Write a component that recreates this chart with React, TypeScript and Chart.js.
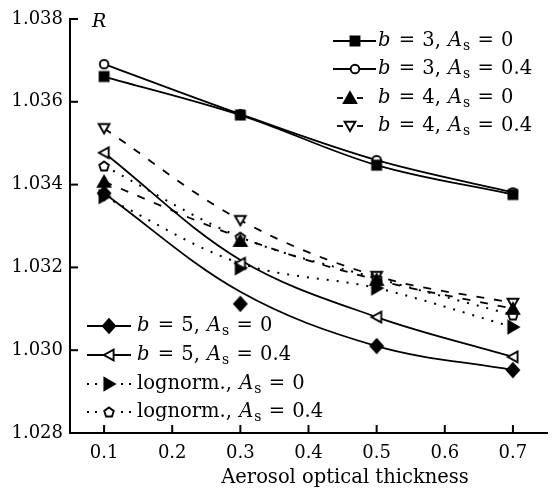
import React, { useEffect, useRef } from 'react';
import { Chart, registerables } from 'chart.js';

Chart.register(...registerables);

// ---- data ----
const xValues = [0.1, 0.3, 0.5, 0.7];
const xTicks = [0.1, 0.2, 0.3, 0.4, 0.5, 0.6, 0.7];
const yTicks = [1.028, 1.03, 1.032, 1.034, 1.036, 1.038];

// measured points (markers)
const b3As0 = [1.03661, 1.03568, 1.03447, 1.03376];
const b3As04 = [1.03691, 1.0357, 1.03459, 1.03381];
const b4As0 = [1.03407, 1.03264, 1.0317, 1.031];
const b4As04 = [1.03536, 1.03314, 1.03179, 1.03114];
const b5As0 = [1.03379, 1.03112, 1.0301, 1.02952];
const b5As04 = [1.03477, 1.0321, 1.0308, 1.02984];
const lnAs0 = [1.03371, 1.03199, 1.0315, 1.03056];
const lnAs04 = [1.03445, 1.03273, 1.03174, 1.03085];

// fitted curves (lines)
const b3As0Fit = [1.03661, 1.03568, 1.03447, 1.03376];
const b3As04Fit = [1.03691, 1.0357, 1.03459, 1.03381];
const b4As0Fit = [1.03407, 1.03272, 1.0317, 1.031];
const b4As04Fit = [1.03536, 1.03314, 1.03179, 1.03114];
const b5As0Fit = [1.03379, 1.03141, 1.0301, 1.02952];
const b5As04Fit = [1.03477, 1.03218, 1.0308, 1.02984];
const lnAs0Fit = [1.03371, 1.0321, 1.0315, 1.03056];
const lnAs04Fit = [1.03445, 1.03273, 1.03174, 1.03085];

type Part = { t: string; italic?: boolean; sub?: boolean };
const lbl = (pre: Part[], val: string): Part[] => [
  ...pre,
  { t: 'A', italic: true },
  { t: 's', sub: true },
  { t: ' = ' + val },
];

const labelB3As0 = lbl([{ t: 'b', italic: true }, { t: ' = 3, ' }], '0');
const labelB3As04 = lbl([{ t: 'b', italic: true }, { t: ' = 3, ' }], '0.4');
const labelB4As0 = lbl([{ t: 'b', italic: true }, { t: ' = 4, ' }], '0');
const labelB4As04 = lbl([{ t: 'b', italic: true }, { t: ' = 4, ' }], '0.4');
const labelB5As0 = lbl([{ t: 'b', italic: true }, { t: ' = 5, ' }], '0');
const labelB5As04 = lbl([{ t: 'b', italic: true }, { t: ' = 5, ' }], '0.4');
const labelLnAs0 = lbl([{ t: 'lognorm., ' }], '0');
const labelLnAs04 = lbl([{ t: 'lognorm., ' }], '0.4');

const FONT = 'DejaVu Serif';

type Series = {
  values: number[];
  fit: number[];
  marker: string;
  style: 'solid' | 'dashed' | 'dotted';
  label: Part[];
  group: 'top' | 'bottom';
};

const series: Series[] = [
  { values: b3As0, fit: b3As0Fit, marker: 'square', style: 'solid', label: labelB3As0, group: 'top' },
  { values: b3As04, fit: b3As04Fit, marker: 'circle', style: 'solid', label: labelB3As04, group: 'top' },
  { values: b4As0, fit: b4As0Fit, marker: 'triUp', style: 'dashed', label: labelB4As0, group: 'top' },
  { values: b4As04, fit: b4As04Fit, marker: 'triDown', style: 'dashed', label: labelB4As04, group: 'top' },
  { values: b5As0, fit: b5As0Fit, marker: 'diamond', style: 'solid', label: labelB5As0, group: 'bottom' },
  { values: b5As04, fit: b5As04Fit, marker: 'triLeft', style: 'solid', label: labelB5As04, group: 'bottom' },
  { values: lnAs0, fit: lnAs0Fit, marker: 'triRight', style: 'dotted', label: labelLnAs0, group: 'bottom' },
  { values: lnAs04, fit: lnAs04Fit, marker: 'pentagon', style: 'dotted', label: labelLnAs04, group: 'bottom' },
];

const DASH: Record<string, number[]> = { solid: [], dashed: [8, 10], dotted: [2, 8] };

function makeMarker(kind: string): HTMLCanvasElement {
  const c = document.createElement('canvas');
  c.width = 18;
  c.height = 18;
  const g = c.getContext('2d')!;
  g.translate(9, 9);
  g.lineWidth = 1.9;
  g.strokeStyle = '#000';
  g.lineJoin = 'miter';
  let filled = true;
  g.beginPath();
  switch (kind) {
    case 'square':
      g.rect(-4.5, -4.5, 9, 9);
      break;
    case 'circle':
      filled = false;
      g.arc(0, 0, 4.3, 0, Math.PI * 2);
      break;
    case 'triUp':
      g.moveTo(0, -5.8);
      g.lineTo(6.2, 5);
      g.lineTo(-6.2, 5);
      break;
    case 'triDown':
      filled = false;
      g.moveTo(-5.4, -4.3);
      g.lineTo(5.4, -4.3);
      g.lineTo(0, 5);
      break;
    case 'diamond':
      g.moveTo(0, -6.8);
      g.lineTo(6.2, 0);
      g.lineTo(0, 6.8);
      g.lineTo(-6.2, 0);
      break;
    case 'triLeft':
      filled = false;
      g.moveTo(-5.2, 0);
      g.lineTo(4.6, -5.4);
      g.lineTo(4.6, 5.4);
      break;
    case 'triRight':
      g.moveTo(5.8, 0);
      g.lineTo(-4.6, -6.2);
      g.lineTo(-4.6, 6.2);
      break;
    case 'pentagon':
      filled = false;
      for (let i = 0; i < 5; i++) {
        const a = -Math.PI / 2 + (i * 2 * Math.PI) / 5;
        const px = 5 * Math.cos(a);
        const py = 5 * Math.sin(a) + 0.5;
        if (i === 0) g.moveTo(px, py);
        else g.lineTo(px, py);
      }
      break;
  }
  g.closePath();
  g.fillStyle = filled ? '#000' : '#fff';
  g.fill();
  g.stroke();
  return c;
}

const LEG_SIZE = 19.5;

function drawParts(ctx: CanvasRenderingContext2D, x: number, y: number, parts: Part[]) {
  let cx = x;
  ctx.fillStyle = '#000';
  ctx.textAlign = 'left';
  ctx.textBaseline = 'middle';
  for (const p of parts) {
    const size = p.sub ? 14 : LEG_SIZE;
    ctx.font = `${p.italic ? 'italic ' : ''}${size}px "${FONT}"`;
    // draw word by word so spaces can be widened a little
    const words = p.t.split(' ');
    const sp = ctx.measureText(' ').width + 1;
    words.forEach((w, i) => {
      if (w) {
        ctx.fillText(w, cx, y + (p.sub ? 5 : 0));
        cx += ctx.measureText(w).width;
      }
      if (i < words.length - 1) cx += sp;
    });
    if (p.italic) cx += 1;
  }
}

export default function App() {
  const ref = useRef<HTMLCanvasElement>(null);

  useEffect(() => {
    document.body.style.margin = '0';
    const markers: Record<string, HTMLCanvasElement> = {};
    for (const s of series) markers[s.marker] = makeMarker(s.marker);

    const lineDatasets = series.map((s) => ({
      data: xValues.map((x, i) => ({ x, y: s.fit[i] })),
      showLine: true,
      borderColor: '#000',
      borderWidth: s.style === 'dotted' ? 2 : 1.8,
      borderDash: DASH[s.style],
      pointRadius: 0,
      pointHoverRadius: 0,
      fill: false,
      tension: 0.35,
      order: 2,
    }));
    const markerDatasets = series.map((s) => ({
      data: xValues.map((x, i) => ({ x, y: s.values[i] })),
      showLine: false,
      pointStyle: markers[s.marker],
      pointRadius: 5,
      pointHoverRadius: 5,
      order: 1,
    }));

    const decor = {
      id: 'decor',
      afterDraw(chart: any) {
        const { ctx, chartArea, scales } = chart;
        const xs = scales.x;
        const ys = scales.y;
        ctx.save();
        ctx.strokeStyle = '#000';
        ctx.lineWidth = 2;
        ctx.setLineDash([]);
        // inward tick marks
        for (const t of ys.ticks) {
          const py = ys.getPixelForValue(t.value);
          ctx.beginPath();
          ctx.moveTo(chartArea.left, py);
          ctx.lineTo(chartArea.left + 8, py);
          ctx.stroke();
        }
        for (const t of xs.ticks) {
          const px = xs.getPixelForValue(t.value);
          ctx.beginPath();
          ctx.moveTo(px, chartArea.bottom);
          ctx.lineTo(px, chartArea.bottom - 8);
          ctx.stroke();
        }
        // axis titles
        ctx.fillStyle = '#000';
        ctx.font = `19.5px "${FONT}"`;
        ctx.textAlign = 'center';
        ctx.textBaseline = 'middle';
        ctx.fillText('Aerosol optical thickness', chartArea.left + 275, chartArea.bottom + 45);
        ctx.font = `italic 19px "${FONT}"`;
        ctx.textAlign = 'left';
        ctx.fillText('R', chartArea.left + 22, chartArea.top + 3);

        // legends
        const top = series.filter((s) => s.group === 'top');
        const bottom = series.filter((s) => s.group === 'bottom');
        const drawEntry = (s: Series, y: number, x0: number, x1: number, tx: number) => {
          const cx = (x0 + x1) / 2;
          ctx.save();
          ctx.lineWidth = s.style === 'dotted' ? 2 : 1.8;
          ctx.setLineDash([]);
          const seg = (a: number, b: number) => {
            ctx.beginPath();
            ctx.moveTo(a, y);
            ctx.lineTo(b, y);
            ctx.stroke();
          };
          if (s.style === 'solid') {
            seg(x0, x1);
          } else if (s.style === 'dashed') {
            seg(x0, x0 + 6);
            seg(x1 - 6, x1);
          } else {
            [x0, x0 + 8, x1 - 10, x1 - 2].forEach((d) => seg(d, d + 2));
          }
          ctx.restore();
          const m = markers[s.marker];
          ctx.drawImage(m, Math.round(cx - m.width / 2), Math.round(y - m.height / 2));
          drawParts(ctx, tx, y, s.label);
        };
        const topRows = [41, 69, 98, 126];
        top.forEach((s, i) => {
          const dashed = s.style === 'dashed';
          drawEntry(s, topRows[i], dashed ? 337 : 333, dashed ? 363 : 376, 378);
        });
        const bottomRows = [326, 355, 384, 412];
        bottom.forEach((s, i) => {
          drawEntry(s, bottomRows[i], 87, 131, 137);
        });
        ctx.restore();
      },
    };

    const chart = new Chart(ref.current!, {
      type: 'scatter',
      data: { datasets: [...lineDatasets, ...markerDatasets] as any },
      options: {
        animation: false,
        responsive: false,
        devicePixelRatio: 1,
        layout: { padding: { top: 19, right: 0, left: 0, bottom: 0 } },
        plugins: { legend: { display: false }, tooltip: { enabled: false } },
        scales: {
          x: {
            type: 'linear',
            min: 0.05,
            max: 0.75,
            afterBuildTicks: (s: any) => {
              s.ticks = xTicks.map((v) => ({ value: v }));
            },
            afterFit: (s: any) => {
              s.height = 59;
            },
            grid: { display: false, drawTicks: false },
            border: { display: true, color: '#000', width: 2 },
            ticks: {
              color: '#000',
              padding: 10,
              maxRotation: 0,
              font: { family: FONT, size: 18 },
              callback: (v: any) => Number(v).toFixed(1),
            },
          },
          y: {
            type: 'linear',
            min: 1.028,
            max: 1.038,
            afterBuildTicks: (s: any) => {
              s.ticks = yTicks.map((v) => ({ value: v }));
            },
            afterFit: (s: any) => {
              s.width = 70;
            },
            grid: { display: false, drawTicks: false },
            border: { display: true, color: '#000', width: 2 },
            ticks: {
              color: '#000',
              padding: 7,
              font: { family: FONT, size: 18 },
              callback: (v: any) => Number(v).toFixed(3),
            },
          },
        },
      },
      plugins: [decor],
    });
    return () => chart.destroy();
  }, []);

  return (
    <div style={{ width: 553, height: 492, background: '#fff' }}>
      <canvas ref={ref} width={553} height={492} />
    </div>
  );
}
